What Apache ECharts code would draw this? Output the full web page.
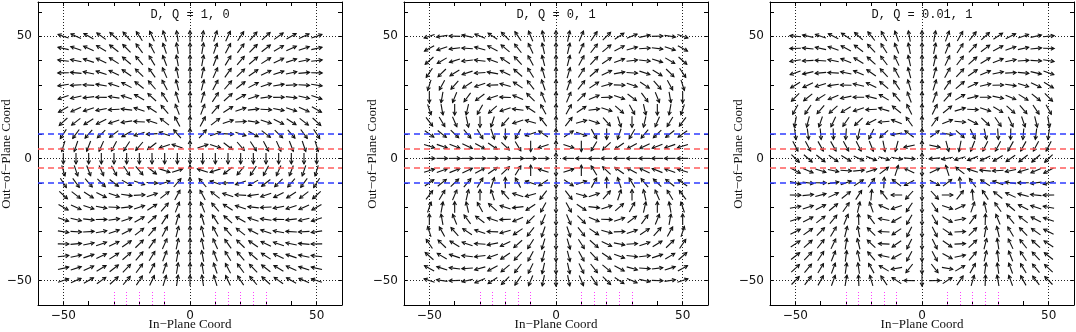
<!DOCTYPE html>
<html>
<head>
<meta charset="utf-8">
<script src="https://cdn.jsdelivr.net/npm/echarts@6/dist/echarts.min.js"></script>
<style>
html, body { margin: 0; padding: 0; background: #fff; }
#chart { width: 1076px; height: 332px; }
</style>
</head>
<body>
<div id="chart"></div>
<script>
// sample points of the arrow grid (same for every panel)
var xs = [-50, -45, -40, -35, -30, -25, -20, -15, -10, -5, 0, 5, 10, 15, 20, 25, 30, 35, 40, 45, 50];
var ys = [-50, -45, -40, -35, -30, -25, -20, -15, -10, -5, 0, 5, 10, 15, 20, 25, 30, 35, 40, 45, 50];

// one entry per panel: dipole and quadrupole strengths from the titles
var titles = ['D, Q = 1, 0', 'D, Q = 0, 1', 'D, Q = 0.01, 1'];
var dipole = [1, 0, 0.01];
var quad = [0, 1, 1];
var originAngle = [-90, 90, 90];   // arrow drawn at the centre
var qNorm = 0.34;                  // quadrupole normalisation vs dipole

// reference lines
var majorTicks = [-50, 0, 50];
var redLines = [4, -4];
var blueLines = [10, -10];
var magentaXs = [-30, -25, -20, -15, -10, 10, 15, 20, 25, 30];
var magentaSpan = [-60, -54];

var xName = 'In\u2212Plane Coord';
var yName = 'Out\u2212of\u2212Plane Coord';

var serif = '"Liberation Serif", "DejaVu Serif", serif';
var tickFont = '"DejaVu Sans", sans-serif';

function fieldAngle(x, y, d, q) {
  var r2 = x * x + y * y;
  var r = Math.sqrt(r2);
  var r5 = r2 * r2 * r, r7 = r5 * r2;
  var ex = d * 3 * x * y / r5 + q * qNorm * 1.5 * x * (5 * y * y - r2) / r7;
  var ey = d * (2 * y * y - x * x) / r5 + q * qNorm * 1.5 * y * (5 * y * y - 3 * r2) / r7;
  return Math.atan2(ey, ex) * 180 / Math.PI;
}

function arrowData(p) {
  var out = [];
  xs.forEach(function (x) {
    ys.forEach(function (y) {
      var a = (x === 0 && y === 0) ? originAngle[p] : fieldAngle(x, y, dipole[p], quad[p]);
      out.push([x, y, a]);
    });
  });
  return out;
}

function rot(ux, uy, t) {
  return [ux * Math.cos(t) - uy * Math.sin(t), ux * Math.sin(t) + uy * Math.cos(t)];
}

function renderArrow(params, api) {
  var c = api.coord([api.value(0), api.value(1)]);
  var a = api.value(2) * Math.PI / 180;
  var ux = Math.cos(a), uy = -Math.sin(a);
  var half = 5.5, head = 3.8, t = 0.5;
  var tail = [c[0] - ux * half, c[1] - uy * half];
  var tip = [c[0] + ux * half, c[1] + uy * half];
  var r1 = rot(ux, uy, t), r2 = rot(ux, uy, -t);
  var h1 = [tip[0] - r1[0] * head, tip[1] - r1[1] * head];
  var h2 = [tip[0] - r2[0] * head, tip[1] - r2[1] * head];
  var st = { stroke: '#111', lineWidth: 1.1, fill: null };
  return {
    type: 'group',
    children: [
      { type: 'polyline', shape: { points: [tail, tip] }, style: st },
      { type: 'polyline', shape: { points: [h1, tip, h2] }, style: st }
    ]
  };
}

function tickLabel(v) {
  if (majorTicks.indexOf(v) < 0) return '';
  return v < 0 ? '\u2212' + Math.abs(v) : String(v);
}

var grids = [], xAxes = [], yAxes = [], series = [], graphics = [];
var axisLine = { onZero: false, lineStyle: { color: '#000', width: 1 } };
var tick = { inside: true, length: 4, lineStyle: { color: '#000', width: 1 } };
var nameFont = '13px ' + serif;

for (var p = 0; p < 3; p++) {
  var left = 38 + 366 * p;
  grids.push({ left: left, top: 2, width: 304, height: 303, containLabel: false, outerBoundsMode: 'none' });

  xAxes.push({
    gridIndex: p, type: 'value', min: -60, max: 60, interval: 10, position: 'bottom',
    axisLine: axisLine, axisTick: tick, splitLine: { show: false },
    axisLabel: { formatter: tickLabel, color: '#111', fontFamily: tickFont, fontSize: 12, margin: 5 }
  });
  xAxes.push({
    gridIndex: p, type: 'value', min: -60, max: 60, interval: 10, position: 'top',
    axisLine: axisLine, axisTick: tick, splitLine: { show: false }, axisLabel: { show: false }
  });
  yAxes.push({
    gridIndex: p, type: 'value', min: -60, max: 64, interval: 10, position: 'left',
    axisLine: axisLine, axisTick: tick, splitLine: { show: false },
    axisLabel: { formatter: tickLabel, color: '#111', fontFamily: tickFont, fontSize: 12, margin: 6 }
  });
  yAxes.push({
    gridIndex: p, type: 'value', min: -60, max: 64, interval: 10, position: 'right',
    axisLine: axisLine, axisTick: tick, splitLine: { show: false }, axisLabel: { show: false }
  });

  var lines = [];
  var dotted = { color: '#222', width: 1, type: [1, 2] };
  majorTicks.forEach(function (v) {
    lines.push({ xAxis: v, lineStyle: dotted });
    lines.push({ yAxis: v, lineStyle: dotted });
  });
  redLines.forEach(function (v) {
    lines.push({ yAxis: v, lineStyle: { color: '#ff5c5c', width: 1.5, type: [6, 4] } });
  });
  blueLines.forEach(function (v) {
    lines.push({ yAxis: v, lineStyle: { color: '#2f3cff', width: 1.5, type: [6, 4] } });
  });
  magentaXs.forEach(function (v) {
    lines.push([
      { coord: [v, magentaSpan[0]], lineStyle: { color: '#ff40ff', width: 1, type: [1, 2] } },
      { coord: [v, magentaSpan[1]] }
    ]);
  });

  series.push({
    type: 'custom',
    xAxisIndex: 2 * p, yAxisIndex: 2 * p,
    renderItem: renderArrow,
    data: arrowData(p),
    clip: false,
    silent: true,
    markLine: {
      silent: true, symbol: ['none', 'none'], label: { show: false },
      animation: false, data: lines
    }
  });

  graphics.push({
    type: 'text', x: 190 + 366 * p, y: 15,
    style: {
      text: titles[p], align: 'center', verticalAlign: 'middle',
      fill: '#111', font: '12px "Liberation Mono", "DejaVu Sans Mono", monospace'
    }
  });
  graphics.push({
    type: 'text', x: 190 + 366 * p, y: 325,
    style: { text: xName, align: 'center', verticalAlign: 'middle', fill: '#111', font: nameFont }
  });
  graphics.push({
    type: 'text', x: left - 31, y: 154, rotation: Math.PI / 2,
    style: { text: yName, align: 'center', verticalAlign: 'middle', fill: '#111', font: nameFont }
  });
}

var chart = echarts.init(document.getElementById('chart'), null, { renderer: 'canvas' });
chart.setOption({
  animation: false,
  backgroundColor: '#fff',
  grid: grids,
  xAxis: xAxes,
  yAxis: yAxes,
  series: series,
  graphic: graphics
});
</script>
</body>
</html>
